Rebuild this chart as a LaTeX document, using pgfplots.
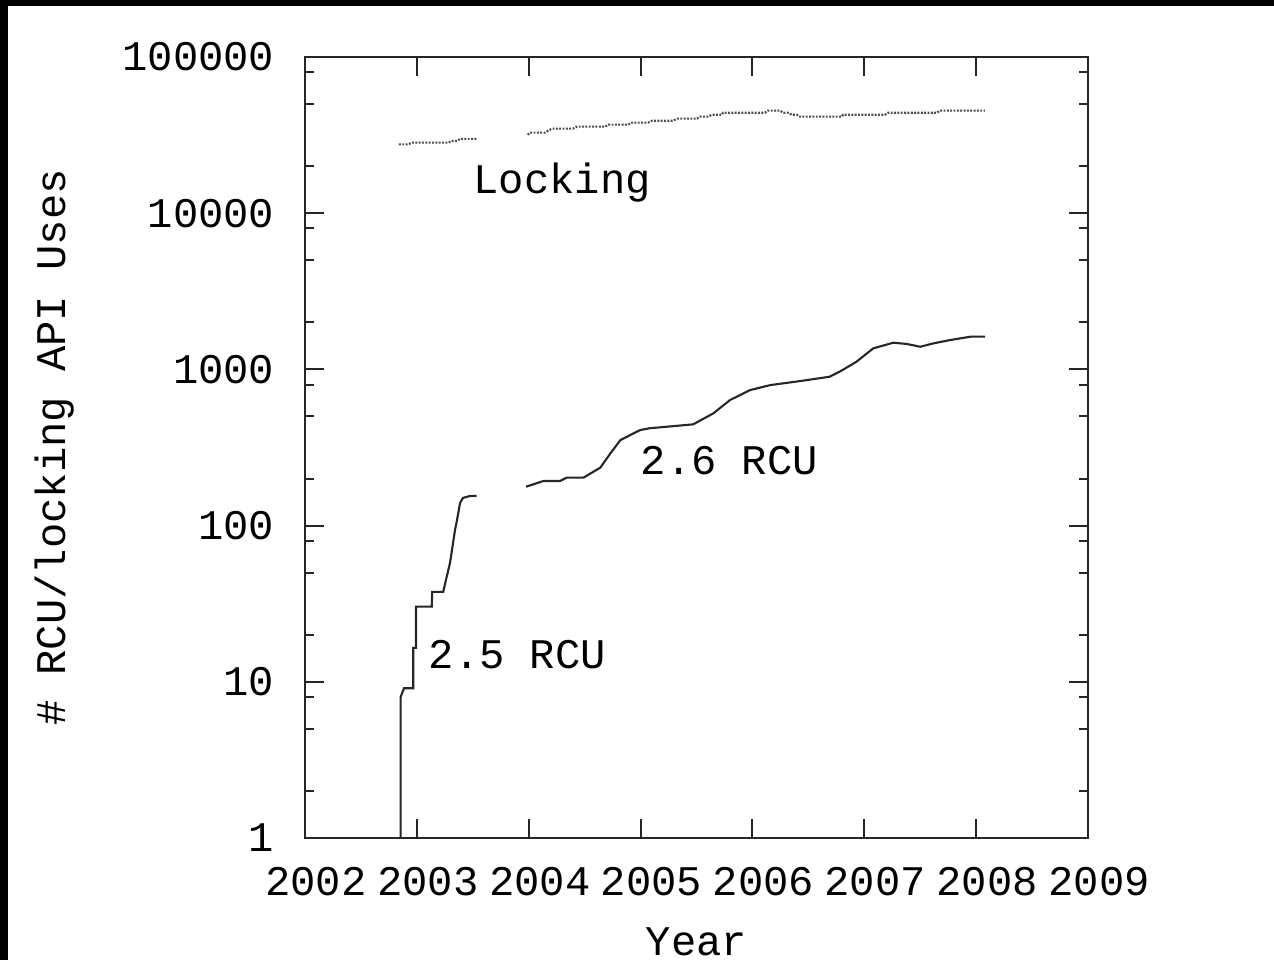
\documentclass[border=0pt]{standalone}
\usepackage{fontspec}
\setmainfont{Liberation Mono}
\usepackage{pgfplots}
\pgfplotsset{compat=1.18}
\usetikzlibrary{calc}

\begin{document}
\begin{tikzpicture}
\begin{axis}[
  scale only axis,
  width=7.83cm, height=7.81cm,
  xmin=2002, xmax=2009,
  ymode=log, ymin=1, ymax=100000,
  xtick={2002,2003,2004,2005,2006,2007,2008,2009},
  xticklabels={2002,2003,2004,2005,2006,2007,2008,2009},
  ytick={1,10,100,1000,10000,100000},
  yticklabels={1,10,100,1000,10000,100000},
  minor ytick={2,5,8,20,50,80,200,500,800,2000,5000,8000,20000,50000,80000},
  tick align=inside,
  major tick length=0.19cm,
  minor tick length=0.09cm,
  every tick/.style={black!85, line width=0.6pt},
  axis line style={black!85, line width=0.6pt},
  ticklabel style={font=\fontsize{12}{14}\selectfont, inner sep=0pt},
  xticklabel style={anchor=base, yshift=-0.57cm, xshift=0.11cm},
  yticklabel style={anchor=east, xshift=-0.30cm},
  label style={font=\fontsize{12}{14}\selectfont, inner sep=0pt},
  xlabel={Year},
  ylabel={\# RCU/locking API Uses},
  xlabel style={at={(axis description cs:0.5,-0.1498)}, anchor=base},
  ylabel style={at={(axis description cs:-0.3065,0.5)}, anchor=base, rotate=0},
]
% Locking (segment 1)
\addplot[black!70, line width=0.6pt, dash pattern=on 0.55pt off 0.4pt] coordinates {
(2002.840,27600) (2002.921,27600) (2002.957,28300) (2003.278,28300)
(2003.314,29000) (2003.359,29000) (2003.386,29900) (2003.538,29900)
};
% Locking (segment 2)
\addplot[black!70, line width=0.6pt, dash pattern=on 0.55pt off 0.4pt] coordinates {
(2003.991,31800) (2004.011,32800) (2004.146,32800) (2004.172,33700)
(2004.208,34800) (2004.396,34800) (2004.432,35800) (2004.682,35800)
(2004.709,36900) (2004.888,36900) (2004.923,38000) (2005.066,38000)
(2005.102,39100) (2005.290,39100) (2005.326,40300) (2005.504,40300)
(2005.531,41500) (2005.603,41500) (2005.638,42700) (2005.728,42700)
(2005.737,44000) (2006.112,44000) (2006.139,45400) (2006.246,45400)
(2006.273,44000) (2006.318,44000) (2006.354,42700) (2006.398,42700)
(2006.425,41500) (2006.801,41500) (2006.810,42700) (2007.185,42700)
(2007.212,44000) (2007.650,44000) (2007.677,45400) (2008.079,45400)
};
% 2.5 RCU
\addplot[black!85, line width=0.6pt] coordinates {
(2002.855,1) (2002.855,8.0) (2002.885,9.1) (2002.968,9.1) (2002.968,16.5)
(2002.992,16.5) (2002.992,30.3) (2003.133,30.3) (2003.137,37.7) (2003.236,37.7)
(2003.260,44.9) (2003.296,57.6) (2003.314,69.8) (2003.341,93.7) (2003.359,108.6)
(2003.386,139.6) (2003.412,150.4) (2003.475,154.8) (2003.535,155)
};
% 2.6 RCU
\addplot[black!85, line width=0.6pt] coordinates {
(2003.976,177.5) (2004.13,193) (2004.28,193) (2004.34,203) (2004.49,203)
(2004.64,235) (2004.73,290) (2004.82,353) (2004.995,409) (2005.08,420)
(2005.47,445) (2005.65,523) (2005.80,637) (2005.98,738) (2006.16,794)
(2006.43,843) (2006.69,898) (2006.78,967) (2006.93,1120) (2007.08,1364)
(2007.26,1483) (2007.38,1455) (2007.50,1397) (2007.62,1469) (2007.77,1543)
(2007.95,1620) (2008.08,1620)
};
\node[anchor=base west, inner sep=0pt, font=\fontsize{12}{14}\selectfont] at (axis cs:2003.50,13460) {Locking};
\node[anchor=base west, inner sep=0pt, font=\fontsize{12}{14}\selectfont] at (axis cs:2004.995,211) {2.6 RCU};
\node[anchor=base west, inner sep=0pt, font=\fontsize{12}{14}\selectfont] at (axis cs:2003.10,12.1) {2.5 RCU};
\coordinate (ll) at (rel axis cs:0,0);
\coordinate (ur) at (rel axis cs:1,1);
\end{axis}
\pgfresetboundingbox
\coordinate (A) at ($(ll)+(-3.05,-1.22)$);
\coordinate (B) at ($(ur)+(1.86,0.57)$);
\path[use as bounding box] (A) rectangle (B);
\fill[black] (A) rectangle ($(A|-B)+(0.085,0)$);
\fill[black] ($(A|-B)+(0,-0.057)$) rectangle (B);
\end{tikzpicture}
\end{document}
